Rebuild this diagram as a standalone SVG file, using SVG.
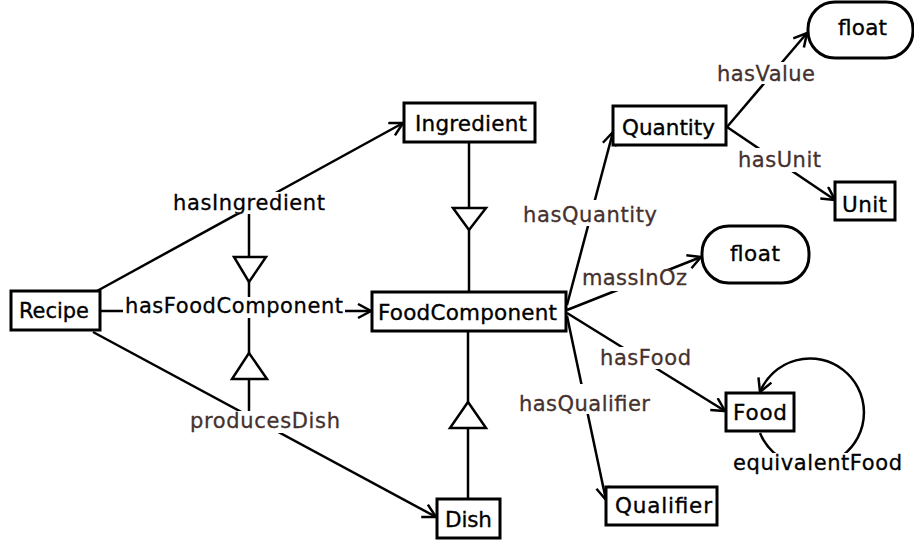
<svg xmlns="http://www.w3.org/2000/svg" width="914" height="544" viewBox="0 0 914 544">
<defs>
<style>
.box{fill:#fff;stroke:#000;stroke-width:3}
.nt{font-family:"DejaVu Sans",sans-serif;font-size:21.5px;fill:#000;stroke:#000;stroke-width:0.35}
.lt{font-family:"DejaVu Sans",sans-serif;font-size:21px;fill:#45312d;stroke:#45312d;stroke-width:0.3}
.lk{font-family:"DejaVu Sans",sans-serif;font-size:21px;fill:#000;stroke:#000;stroke-width:0.3}
.e{fill:none;stroke:#000;stroke-width:2.5}
.bg{fill:#fff}
.tri{fill:#fff;stroke:#000;stroke-width:2.5}
</style>
<marker id="arr" markerUnits="userSpaceOnUse" markerWidth="18" markerHeight="18" refX="14" refY="8" orient="auto">
<path d="M1,1 L14,8 L1,15" fill="none" stroke="#000" stroke-width="2.5"/>
</marker>
</defs>
<rect width="914" height="544" fill="#fff"/>
<g id="connectors">
<line class="e" x1="97" y1="291" x2="403" y2="123" marker-end="url(#arr)"/>
<line class="e" x1="100" y1="311" x2="371" y2="311" marker-end="url(#arr)"/>
<line class="e" x1="93" y1="332" x2="436" y2="517" marker-end="url(#arr)"/>
<line class="e" x1="567" y1="305" x2="613" y2="132" marker-end="url(#arr)"/>
<line class="e" x1="567" y1="310" x2="701" y2="257" marker-end="url(#arr)"/>
<line class="e" x1="567" y1="313" x2="725" y2="411" marker-end="url(#arr)"/>
<line class="e" x1="567" y1="316" x2="606" y2="500" marker-end="url(#arr)"/>
<line class="e" x1="727" y1="127" x2="807" y2="33" marker-end="url(#arr)"/>
<line class="e" x1="727" y1="127" x2="835" y2="200" marker-end="url(#arr)"/>
<path class="e" d="M760 433 A54 54 0 1 0 760 392" marker-end="url(#arr)"/>
<line class="e" x1="249" y1="214" x2="249" y2="300"/>
<line class="e" x1="249" y1="316" x2="249" y2="412"/>
<line class="e" x1="469" y1="142" x2="469" y2="292"/>
<line class="e" x1="468" y1="331" x2="468" y2="499"/>
<polygon class="tri" points="234,257 266,257 249,282"/>
<polygon class="tri" points="232,379 267,379 249,353"/>
<polygon class="tri" points="453,208 486,208 469,230"/>
<polygon class="tri" points="450,428 486,428 468,402"/>
<rect class="bg" x="171" y="192" width="156" height="22"/>
<text class="lk" x="173" y="210" textLength="152" lengthAdjust="spacing">hasIngredient</text>
<rect class="bg" x="123" y="297" width="222" height="21"/>
<text class="lk" x="125" y="313" textLength="218" lengthAdjust="spacing">hasFoodComponent</text>
<rect class="bg" x="188" y="411" width="154" height="22"/>
<text class="lt" x="190" y="428" textLength="150" lengthAdjust="spacing">producesDish</text>
<rect class="bg" x="521" y="200" width="138" height="26"/>
<text class="lt" x="523" y="222" textLength="134" lengthAdjust="spacing">hasQuantity</text>
<rect class="bg" x="580" y="270" width="109" height="21"/>
<text class="lt" x="582" y="285" textLength="105" lengthAdjust="spacing">massInOz</text>
<rect class="bg" x="598" y="347" width="95" height="22"/>
<text class="lt" x="600" y="365" textLength="91" lengthAdjust="spacing">hasFood</text>
<rect class="bg" x="517" y="384" width="135" height="30"/>
<text class="lt" x="519" y="411" textLength="131" lengthAdjust="spacing">hasQualifier</text>
<rect class="bg" x="715" y="62" width="102" height="22"/>
<text class="lt" x="717" y="81" textLength="98" lengthAdjust="spacing">hasValue</text>
<rect class="bg" x="736" y="148" width="87" height="24"/>
<text class="lt" x="738" y="167" textLength="83" lengthAdjust="spacing">hasUnit</text>
<rect class="bg" x="731" y="453" width="173" height="23"/>
<text class="lk" x="733" y="470" textLength="169" lengthAdjust="spacing">equivalentFood</text>
</g>
<g id="Recipe"><rect class="box" x="11" y="291" width="89" height="39"/><text class="nt" x="19" y="318" textLength="70" lengthAdjust="spacingAndGlyphs">Recipe</text></g>
<g id="Ingredient"><rect class="box" x="404" y="103" width="131" height="39"/><text class="nt" x="415" y="131" textLength="112" lengthAdjust="spacing">Ingredient</text></g>
<g id="FoodComponent"><rect class="box" x="372" y="292" width="194" height="39"/><text class="nt" x="378" y="320" textLength="179" lengthAdjust="spacing">FoodComponent</text></g>
<g id="Dish"><rect class="box" x="437" y="499" width="63" height="39"/><text class="nt" x="445" y="527" textLength="47" lengthAdjust="spacing">Dish</text></g>
<g id="Quantity"><rect class="box" x="613" y="106" width="113" height="39"/><text class="nt" x="622" y="135" textLength="93" lengthAdjust="spacing">Quantity</text></g>
<g id="Unit"><rect class="box" x="835" y="182" width="60" height="38"/><text class="nt" x="842" y="212" textLength="45" lengthAdjust="spacing">Unit</text></g>
<g id="floatValue"><rect class="box" x="808" y="2" width="105" height="56" rx="27" ry="27"/><text class="nt" x="838" y="35" textLength="49" lengthAdjust="spacing">float</text></g>
<g id="floatMass"><rect class="box" x="702" y="226" width="107" height="57" rx="27" ry="27"/><text class="nt" x="730" y="261" textLength="50" lengthAdjust="spacing">float</text></g>
<g id="Food"><rect class="box" x="726" y="393" width="68" height="38"/><text class="nt" x="733" y="420" textLength="54" lengthAdjust="spacing">Food</text></g>
<g id="Qualifier"><rect class="box" x="606" y="487" width="111" height="38"/><text class="nt" x="615" y="513" textLength="97" lengthAdjust="spacing">Qualifier</text></g>
</svg>
